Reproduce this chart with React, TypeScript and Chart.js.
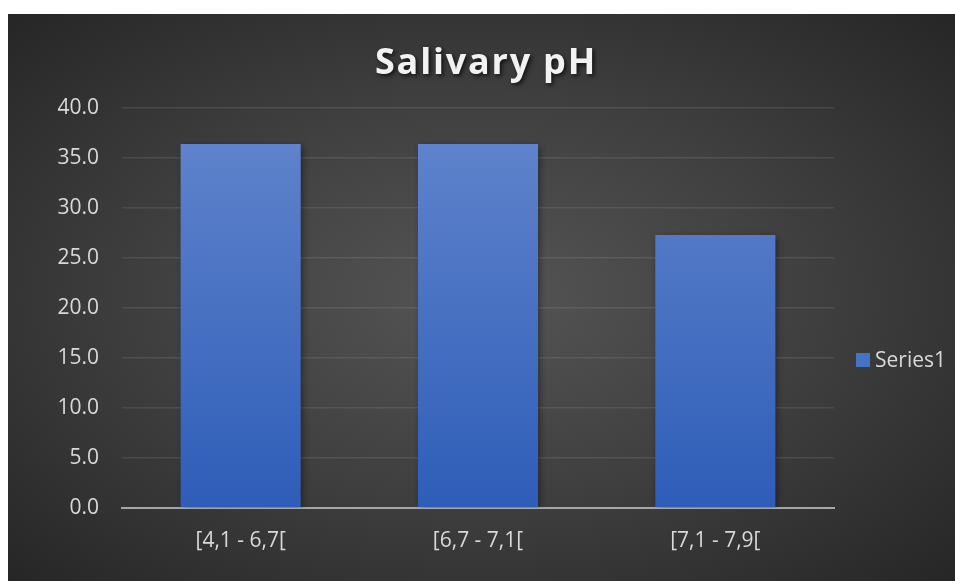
import React, { useEffect, useRef } from "react";
import { Chart, registerables } from "chart.js";

Chart.register(...registerables);

const categories = ["[4,1 - 6,7[", "[6,7 - 7,1[", "[7,1 - 7,9["];
const series1 = [36.4, 36.4, 27.3];
const seriesName = "Series1";
const chartTitle = "Salivary pH";

const FONT = "'Open Sans', 'Noto Sans', sans-serif";
const TEXT = "#d9d9d9";

export default function App() {
  const ref = useRef<HTMLCanvasElement | null>(null);

  useEffect(() => {
    if (!ref.current) return;

    const overlay = {
      id: "overlay",
      beforeDatasetsDraw(chart: any) {
        const ctx = chart.ctx;
        ctx.save();
        ctx.shadowColor = "rgba(0,0,0,0.45)";
        ctx.shadowBlur = 7;
        ctx.shadowOffsetX = 2;
        ctx.shadowOffsetY = 2;
      },
      afterDatasetsDraw(chart: any) {
        chart.ctx.restore();
      },
      afterDraw(chart: any) {
        const ctx = chart.ctx;
        // title
        ctx.save();
        ctx.font = `bold 36px ${FONT}`;
        ctx.fillStyle = "#f2f2f2";
        ctx.textAlign = "center";
        ctx.textBaseline = "alphabetic";
        ctx.shadowColor = "rgba(0,0,0,0.7)";
        ctx.shadowBlur = 4;
        ctx.shadowOffsetX = 2;
        ctx.shadowOffsetY = 2;
        if (ctx.letterSpacing !== undefined) ctx.letterSpacing = "1.8px";
        ctx.fillText(chartTitle, 478, 60);
        ctx.restore();
        // legend
        ctx.save();
        ctx.fillStyle = "#4472c4";
        ctx.fillRect(848, 339, 14, 14);
        ctx.font = `21px ${FONT}`;
        ctx.fillStyle = TEXT;
        ctx.textAlign = "left";
        ctx.textBaseline = "middle";
        ctx.fillText(seriesName, 867, 347);
        ctx.restore();
      },
    };

    const chart = new Chart(ref.current, {
      type: "bar",
      data: {
        labels: categories,
        datasets: [
          {
            label: seriesName,
            data: series1,
            backgroundColor: (c: any) => {
              const area = c.chart.chartArea;
              if (!area) return "#4472c4";
              const g = c.chart.ctx.createLinearGradient(0, area.top, 0, area.bottom);
              g.addColorStop(0, "#6386cd");
              g.addColorStop(1, "#2e5db8");
              return g;
            },
            categoryPercentage: 1,
            barPercentage: 0.506,
          },
        ],
      },
      options: {
        responsive: false,
        animation: false,
        layout: { padding: { top: 94, right: 121, bottom: 6, left: 0 } },
        plugins: {
          legend: { display: false },
          title: { display: false },
          tooltip: { enabled: false },
        },
        scales: {
          x: {
            grid: { display: false, drawTicks: false },
            border: { color: "#a6a6a6", width: 2 },
            ticks: { color: TEXT, font: { family: FONT, size: 21 }, padding: 21 },
          },
          y: {
            min: 0,
            max: 40,
            afterFit: (s: any) => {
              s.width = 114;
            },
            grid: { color: "rgba(255,255,255,0.09)", lineWidth: 1.5, drawTicks: false },
            border: { display: false },
            ticks: {
              stepSize: 5,
              color: TEXT,
              padding: 23,
              font: { family: FONT, size: 21 },
              callback: (v: any) => Number(v).toFixed(1),
            },
          },
        },
      },
      plugins: [overlay],
    });
    return () => chart.destroy();
  }, []);

  return (
    <div
      style={{
        position: "absolute",
        left: 8,
        top: 14,
        width: 947,
        height: 567,
        background: "radial-gradient(ellipse at 50% 50%, #555555 0%, #3f3f3f 50%, #262626 100%)",
      }}
    >
      <canvas ref={ref} width={947} height={567} style={{ display: "block" }} />
    </div>
  );
}
